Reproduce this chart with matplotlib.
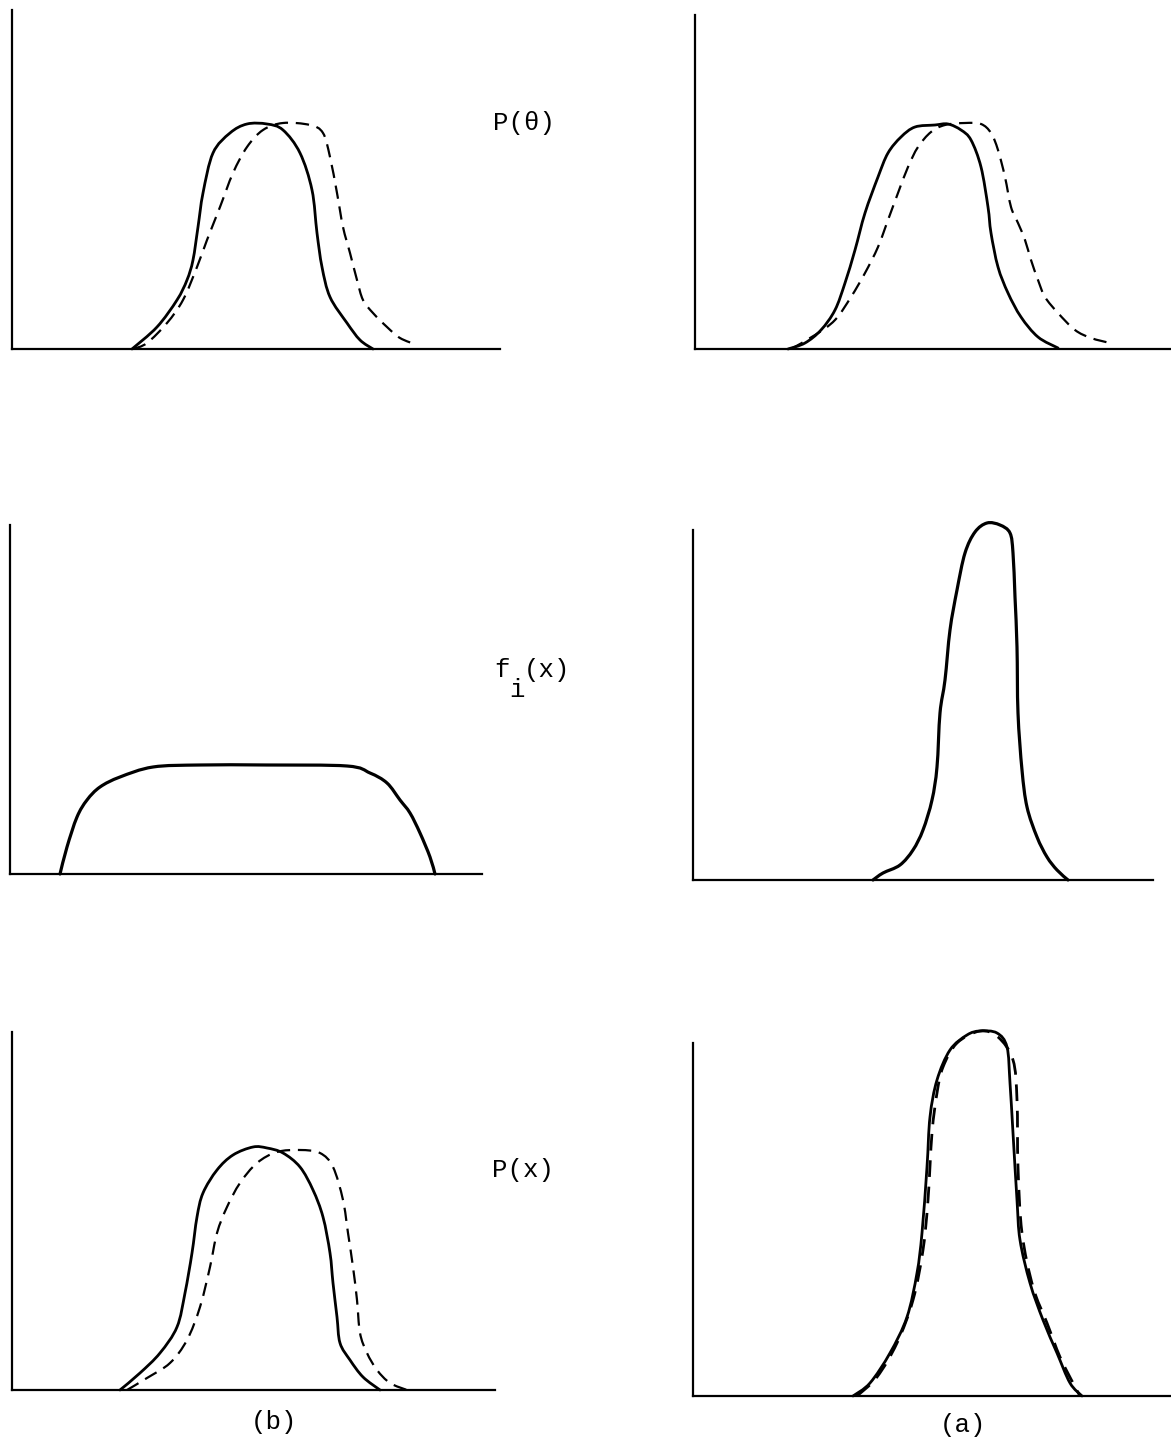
import numpy as np
import matplotlib
matplotlib.use("Agg")
import matplotlib.pyplot as plt
from matplotlib.path import Path
from matplotlib.patches import PathPatch

plt.rcParams['font.family'] = ['Liberation Mono', 'DejaVu Sans Mono']

FIG_W, FIG_H = 1171, 1443

# --- P(theta), case (b) ---
ptheta_b_x = [120, 145, 165, 175, 181, 186, 191, 201, 218, 235, 255, 271, 288, 300, 305, 310, 318, 335, 348, 361]
ptheta_b_y = [0, 22, 49, 69, 89, 122, 156, 196, 216, 225, 225, 219, 196, 159, 116, 82, 52, 26, 9, 0]
ptheta_b_dx = [121, 135, 155, 171, 185, 195, 208, 221, 235, 251, 271, 298, 311, 318, 325, 331, 338, 345, 351, 361, 375, 388, 405]
ptheta_b_dy = [0, 6, 26, 49, 82, 109, 142, 176, 202, 219, 226, 224, 216, 192, 156, 122, 96, 69, 49, 36, 22, 11, 4]

# --- P(theta), case (a) ---
ptheta_a_x = [93, 110, 126, 140, 150, 160, 170, 183, 193, 206, 220, 240, 253, 266, 276, 286, 293, 296, 303, 313, 326, 343, 363]
ptheta_a_y = [0, 6, 19, 39, 66, 99, 136, 172, 196, 212, 222, 224, 225, 219, 209, 182, 142, 116, 82, 56, 32, 12, 1]
ptheta_a_dx = [96, 120, 140, 156, 170, 183, 193, 203, 213, 223, 236, 250, 270, 286, 296, 303, 310, 316, 323, 330, 336, 343, 350, 363, 380, 396, 415]
ptheta_a_dy = [0, 14, 29, 52, 76, 102, 129, 156, 182, 202, 217, 224, 226, 225, 216, 199, 172, 142, 126, 109, 89, 69, 52, 36, 19, 11, 6]

# --- f_i(x) ---
fi_b_x = [50, 57, 67, 77, 90, 110, 143, 190, 257, 337, 360, 377, 390, 400, 410, 420, 425]
fi_b_y = [0, 27, 57, 74, 87, 97, 107, 109, 109, 108, 101, 91, 74, 61, 41, 17, 0]
fi_a_x = [180, 190, 207, 220, 230, 239, 244, 247, 252, 257, 264, 272, 282, 294, 307, 317, 320, 322, 324, 325, 329, 334, 344, 354, 364, 375]
fi_a_y = [0, 7, 15, 30, 50, 80, 113, 167, 200, 250, 290, 327, 348, 357, 355, 347, 327, 283, 233, 167, 110, 73, 43, 23, 10, 0]

# --- P(x), case (b) ---
px_b_x = [108, 128, 148, 165, 173, 180, 185, 191, 205, 221, 241, 255, 271, 288, 301, 311, 318, 321, 325, 328, 338, 351, 368]
px_b_y = [0, 17, 37, 63, 97, 137, 173, 197, 220, 235, 243, 242, 237, 223, 200, 173, 137, 107, 73, 47, 30, 13, 0]
px_b_dx = [115, 135, 158, 175, 188, 198, 205, 215, 228, 245, 265, 288, 308, 321, 331, 336, 341, 345, 348, 355, 365, 378, 395]
px_b_dy = [0, 12, 27, 50, 83, 123, 157, 183, 207, 227, 238, 240, 237, 223, 190, 157, 123, 90, 57, 37, 20, 7, 0]

# --- P(x), case (a) ---
px_a_x = [160, 177, 197, 214, 224, 229, 234, 237, 244, 257, 274, 287, 304, 314, 317, 320, 324, 327, 337, 350, 364, 377, 389]
px_a_y = [0, 13, 43, 79, 123, 163, 229, 279, 316, 346, 361, 365, 363, 349, 313, 263, 196, 156, 113, 76, 43, 13, 0]
px_a_dx = [164, 184, 204, 220, 230, 235, 239, 244, 250, 264, 287, 305, 320, 324, 325, 329, 340, 354, 367, 380, 387]
px_a_dy = [0, 19, 53, 96, 146, 196, 263, 303, 329, 353, 365, 359, 336, 296, 229, 163, 109, 73, 39, 13, 0]

fig = plt.figure(figsize=(FIG_W / 100, FIG_H / 100), dpi=100)
fig.patch.set_facecolor('white')


def make_axes(x0, y0, w, h):
    # x0, y0: origin of the axes in pixels (from top-left); w, h: axis lengths
    ax = fig.add_axes([x0 / FIG_W, 1 - y0 / FIG_H, w / FIG_W, h / FIG_H])
    ax.set_xlim(0, w)
    ax.set_ylim(0, h)
    for s in ['top', 'right']:
        ax.spines[s].set_visible(False)
    for s in ['left', 'bottom']:
        ax.spines[s].set_linewidth(1.6)
        ax.spines[s].set_color('black')
    ax.set_xticks([])
    ax.set_yticks([])
    ax.patch.set_alpha(0)
    return ax


def smooth_path(x, y):
    # Catmull-Rom through the points, written as cubic bezier segments
    pts = np.column_stack([x, y]).astype(float)
    n = len(pts)
    verts = [pts[0]]
    codes = [Path.MOVETO]
    for i in range(n - 1):
        p0 = pts[max(i - 1, 0)]
        p1 = pts[i]
        p2 = pts[i + 1]
        p3 = pts[min(i + 2, n - 1)]
        c1 = p1 + (p2 - p0) / 6.0
        c2 = p2 - (p3 - p1) / 6.0
        verts += [c1, c2, p2]
        codes += [Path.CURVE4] * 3
    return Path(verts, codes)


def solid(ax, x, y, lw=2.0):
    ax.add_patch(PathPatch(smooth_path(x, y), fill=False, edgecolor='black',
                           lw=lw, joinstyle='round', capstyle='round', clip_on=False))


def dashed(ax, x, y, lw=1.6):
    ax.add_patch(PathPatch(smooth_path(x, y), fill=False, edgecolor='black',
                           lw=lw, linestyle=(0, (6, 3.5)), clip_on=False))


ax = make_axes(12, 349, 488, 339)
solid(ax, ptheta_b_x, ptheta_b_y)
dashed(ax, ptheta_b_dx, ptheta_b_dy)

ax = make_axes(695, 349, 476, 334)
solid(ax, ptheta_a_x, ptheta_a_y)
dashed(ax, ptheta_a_dx, ptheta_a_dy)

ax = make_axes(10, 874, 472, 349)
solid(ax, fi_b_x, fi_b_y, lw=2.3)

ax = make_axes(693, 880, 460, 350)
solid(ax, fi_a_x, fi_a_y, lw=2.3)

ax = make_axes(12, 1390, 483, 358)
solid(ax, px_b_x, px_b_y)
dashed(ax, px_b_dx, px_b_dy)

ax = make_axes(693, 1396, 478, 353)
solid(ax, px_a_x, px_a_y)
dashed(ax, px_a_dx, px_a_dy, lw=2.0)

# labels between the two columns
fs = 18.5
fig.text(493 / FIG_W, 1 - 123 / FIG_H, 'P(θ)', fontsize=fs, va='center', ha='left')
fig.text(494 / FIG_W, 1 - 670 / FIG_H, 'f', fontsize=fs, va='center', ha='left')
fig.text(509 / FIG_W, 1 - 690 / FIG_H, 'i', fontsize=fs, va='center', ha='left')
fig.text(524 / FIG_W, 1 - 670 / FIG_H, '(x)', fontsize=fs, va='center', ha='left')
fig.text(492 / FIG_W, 1 - 1170 / FIG_H, 'P(x)', fontsize=fs, va='center', ha='left')
fig.text(274 / FIG_W, 1 - 1422 / FIG_H, '(b)', fontsize=fs, va='center', ha='center')
fig.text(963 / FIG_W, 1 - 1425 / FIG_H, '(a)', fontsize=fs, va='center', ha='center')

fig.savefig('out.png', dpi=100, facecolor='white')
